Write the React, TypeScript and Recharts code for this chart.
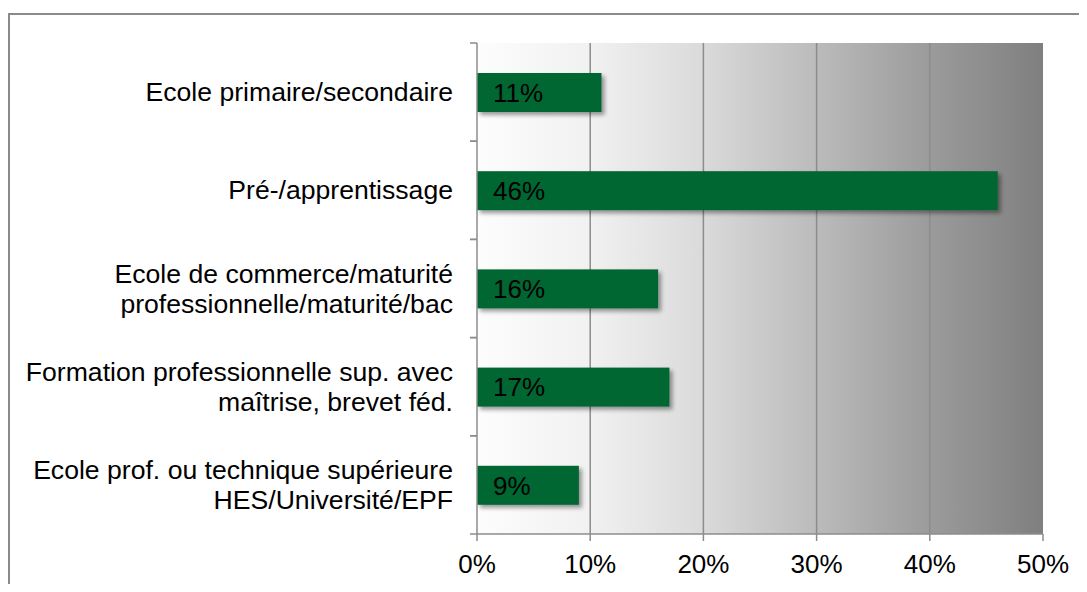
import { Bar, BarChart, CartesianGrid, LabelList, XAxis, YAxis } from "recharts";

const categories = [
  "Ecole primaire/secondaire",
  "Pré-/apprentissage",
  "Ecole de commerce/maturité\nprofessionnelle/maturité/bac",
  "Formation professionnelle sup. avec\nmaîtrise, brevet féd.",
  "Ecole prof. ou technique supérieure\nHES/Université/EPF",
];
const shares = [11, 46, 16, 17, 9];
const xTicks = [0, 10, 20, 30, 40, 50];

const data = categories.map((name, i) => ({ name, value: shares[i] }));

const FONT = '"Liberation Sans", Arial, sans-serif';
const AXIS_GRAY = "#8c8c8c";
const FONT_SIZE = 26;

// category label, possibly on two lines, plus the little ticks at the band edges
const CategoryTick = (props: any) => {
  const { x, y, payload } = props;
  const lines = String(payload.value).split("\n");
  const half = payload.offset || 49;
  const lineH = 30;
  return (
    <g>
      <line x1={x + 17} x2={x + 24} y1={y - half} y2={y - half} stroke={AXIS_GRAY} strokeWidth={1.5} />
      <line x1={x + 17} x2={x + 24} y1={y + half} y2={y + half} stroke={AXIS_GRAY} strokeWidth={1.5} />
      <text x={x} y={y} textAnchor="end" fontSize={26.6} fill="#000" fontFamily={FONT}>
        {lines.map((l, i) => (
          <tspan
            key={i}
            x={x}
            y={y - ((lines.length - 1) * lineH) / 2 + i * lineH}
            dominantBaseline="central"
          >
            {l}
          </tspan>
        ))}
      </text>
    </g>
  );
};

const ShadowBar = (props: any) => {
  const { x, y, width, height, fill } = props;
  return <rect x={x} y={y} width={width} height={height} fill={fill} filter="url(#barShadow)" />;
};

export default function App() {
  return (
    <div style={{ position: "relative", width: 1079, height: 584, marginBottom: -8 }}>
      <div
        style={{
          position: "absolute",
          top: 5,
          left: 0,
          width: 1079,
          height: 579,
          boxSizing: "border-box",
          borderTop: "2px solid #8a8a8a",
          borderLeft: "2px solid #8a8a8a",
        }}
      />
      <div style={{ position: "absolute", top: 0, left: 0 }}>
        <BarChart
          width={1079}
          height={576}
          data={data}
          layout="vertical"
          margin={{ top: 35, right: 44, bottom: 10, left: 0 }}
          style={{ fontFamily: FONT }}
        >
          <defs>
            <linearGradient id="plotBg" x1="0" y1="0" x2="1" y2="0">
              <stop offset="0%" stopColor="#fdfdfd" />
              <stop offset="20%" stopColor="#f1f1f1" />
              <stop offset="40%" stopColor="#dadada" />
              <stop offset="60%" stopColor="#bbbbbb" />
              <stop offset="80%" stopColor="#9b9b9b" />
              <stop offset="100%" stopColor="#7f7f7f" />
            </linearGradient>
            <filter id="barShadow" x="-10%" y="-30%" width="130%" height="180%">
              <feDropShadow dx="3" dy="3" stdDeviation="2" floodColor="#000" floodOpacity="0.4" />
            </filter>
          </defs>
          <CartesianGrid
            horizontal={false}
            stroke={AXIS_GRAY}
            strokeWidth={1.5}
            fill="url(#plotBg)"
            fillOpacity={1}
            verticalValues={[10, 20, 30, 40]}
          />
          <XAxis
            type="number"
            domain={[0, 50]}
            ticks={xTicks}
            tickFormatter={(v) => `${v}%`}
            height={40}
            tickSize={7}
            tickMargin={14}
            axisLine={{ stroke: AXIS_GRAY, strokeWidth: 1.5 }}
            tickLine={{ stroke: AXIS_GRAY, strokeWidth: 1.5 }}
            tick={{ fill: "#000", fontSize: FONT_SIZE, fontFamily: FONT }}
          />
          <YAxis
            type="category"
            dataKey="name"
            width={469}
            tickSize={7}
            tickMargin={17}
            tickLine={false}
            axisLine={{ stroke: AXIS_GRAY, strokeWidth: 1.5 }}
            tick={<CategoryTick />}
            interval={0}
          />
          <Bar dataKey="value" fill="#006633" barSize={39} shape={<ShadowBar />} isAnimationActive={false}>
            <LabelList
              dataKey="value"
              position="insideLeft"
              offset={16}
              formatter={(v: any) => `${v}%`}
              fill="#000"
              fontSize={FONT_SIZE}
              fontFamily={FONT}
            />
          </Bar>
        </BarChart>
      </div>
    </div>
  );
}
